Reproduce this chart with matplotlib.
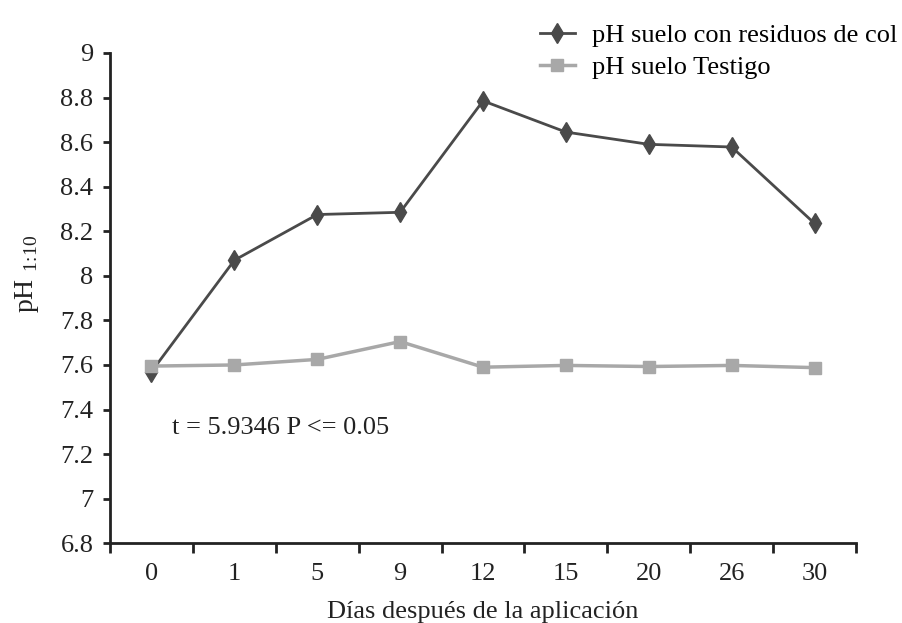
import matplotlib.pyplot as plt

plt.rcParams['font.family'] = ['Liberation Serif', 'DejaVu Serif']
plt.rcParams['mathtext.fontset'] = 'custom'
plt.rcParams['mathtext.rm'] = 'Liberation Serif'

# Data
dias = ['0', '1', '5', '9', '12', '15', '20', '26', '30']
ph_col = [7.57, 8.07, 8.275, 8.285, 8.785, 8.645, 8.59, 8.578, 8.235]
ph_testigo = [7.595, 7.60, 7.625, 7.705, 7.59, 7.598, 7.593, 7.598, 7.588]
y_ticks = [6.8, 7, 7.2, 7.4, 7.6, 7.8, 8, 8.2, 8.4, 8.6, 8.8, 9]
y_labels = ['6.8', '7', '7.2', '7.4', '7.6', '7.8', '8', '8.2', '8.4', '8.6', '8.8', '9']

fig = plt.figure(figsize=(9.02, 6.23), dpi=100)
ax = fig.add_axes([0.122, 0.128, 0.827, 0.787])

x = list(range(len(dias)))
ax.plot(x, ph_col, color='#4a4a4a', lw=2, marker='d', markersize=10.5,
        label='pH suelo con residuos de col', zorder=3)
ax.plot(x, ph_testigo, color='#a8a8a8', lw=2.5, marker='s', markersize=9,
        label='pH suelo Testigo', zorder=4)

ax.set_xlim(-0.5, 8.5)
ax.set_ylim(6.8, 9)
ax.set_yticks(y_ticks)
ax.set_yticklabels(y_labels)
ax.set_xticks(x)
ax.set_xticklabels(dias)
ax.set_xticks([i - 0.5 for i in range(len(dias) + 1)], minor=True)

ax.tick_params(axis='y', length=5, width=2, labelsize=19, pad=7, colors='#222222')
ax.tick_params(axis='x', which='major', length=0, labelsize=19, pad=14, colors='#222222')
ax.tick_params(axis='x', which='minor', length=7, width=2, color='#222222')

for s in ['top', 'right']:
    ax.spines[s].set_visible(False)
for s in ['left', 'bottom']:
    ax.spines[s].set_linewidth(2)
    ax.spines[s].set_color('#222222')

ax.set_xlabel('Días después de la aplicación', fontsize=19, color='#222222')
ax.xaxis.set_label_coords(0.5, -0.118)
ax.set_ylabel(r'pH $_{\mathrm{1\!:\!10}}$', fontsize=20, color='#222222')
ax.yaxis.set_label_coords(-0.093, 0.55)

ax.text(0.25, 7.316, 't = 5.9346 P <= 0.05', fontsize=19, va='center', color='#222222')

ax.legend(loc='upper left', bbox_to_anchor=(0.599, 0.962), bbox_transform=fig.transFigure,
          frameon=False, fontsize=19, borderpad=0, borderaxespad=0,
          handlelength=1.3, handletextpad=0.65, labelspacing=0.33)

fig.savefig('out.png', dpi=100)
